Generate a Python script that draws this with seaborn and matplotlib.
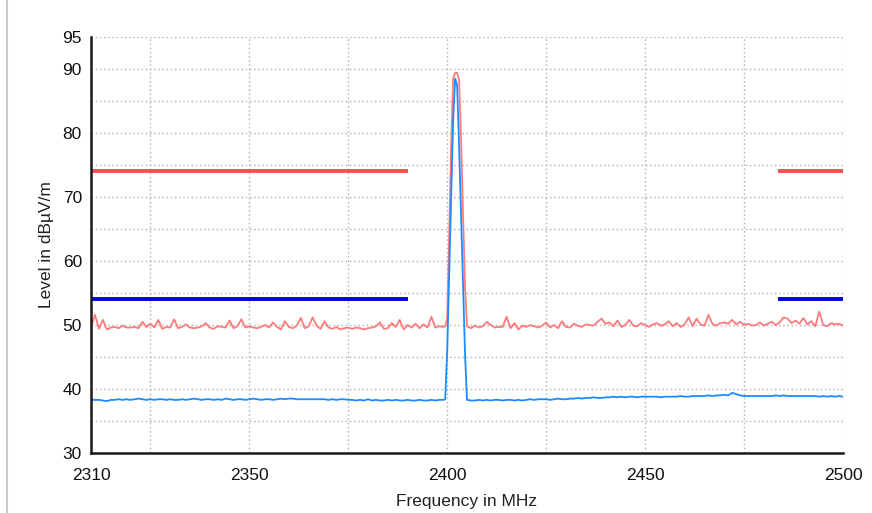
import numpy as np
import pandas as pd
import seaborn as sns
import matplotlib.pyplot as plt
from matplotlib.lines import Line2D

# ---- measured traces -------------------------------------------------------
freq_left = np.arange(2310, 2400)        # 1 MHz sweep points below the carrier
freq_peak = [2399.5, 2400.0, 2400.5, 2401.0, 2401.5, 2402.0, 2402.5,
             2403.0, 2403.5, 2404.0, 2404.5]
freq_right = np.arange(2405, 2501)       # 1 MHz sweep points above the carrier

peak_left = [
    49.7, 51.6, 49.4, 50.8, 49.3, 49.6, 49.7, 49.5, 49.9, 49.6,
    49.6, 49.7, 49.5, 50.5, 49.7, 50.2, 49.6, 50.8, 49.4, 49.7,
    49.6, 50.9, 49.5, 49.7, 50.1, 49.6, 49.5, 49.6, 49.8, 50.3,
    49.6, 49.4, 49.8, 49.7, 49.6, 50.7, 49.5, 49.8, 50.9, 49.6,
    49.8, 49.6, 49.5, 49.7, 50.0, 49.6, 50.4, 49.7, 49.3, 50.6,
    49.7, 49.5, 49.9, 51.1, 49.5, 49.8, 51.2, 49.9, 49.4, 50.6,
    49.6, 49.4, 49.7, 49.3, 49.5, 49.6, 49.4, 49.6, 49.5, 49.3,
    49.5, 49.6, 49.8, 50.4, 49.4, 49.5, 50.3, 49.7, 50.8, 49.3,
    50.0, 49.6, 50.2, 49.5, 50.1, 49.6, 51.3, 49.6, 49.8, 49.7,
]
peak_carrier = [49.8, 51.0, 64.0, 78.0, 88.5, 89.4, 89.4, 88.3, 79.0, 67.5, 56.0]
peak_right = [
    49.8, 49.5, 49.9, 49.6, 49.8, 50.5, 50.0, 49.6, 49.7, 49.7,
    51.3, 49.5, 50.3, 49.3, 49.9, 49.7, 50.0, 49.8, 49.6, 49.9,
    50.4, 49.6, 50.0, 49.5, 50.6, 49.7, 49.6, 50.2, 49.9, 49.7,
    50.1, 50.0, 49.9, 50.5, 51.0, 50.2, 50.4, 49.8, 50.7, 49.7,
    50.0, 50.8, 49.9, 49.8, 50.3, 50.0, 49.7, 50.1, 50.3, 49.9,
    50.1, 50.6, 49.8, 50.3, 49.7, 50.1, 51.2, 49.8, 51.0, 50.1,
    49.9, 51.6, 50.2, 49.9, 50.3, 50.4, 50.2, 50.8, 50.1, 50.5,
    50.0, 50.2, 49.9, 50.0, 50.4, 49.9, 50.2, 50.5, 50.0, 50.4,
    51.2, 51.0, 50.3, 50.7, 50.2, 51.1, 50.1, 50.6, 49.8, 52.1,
    50.0, 49.8, 50.3, 50.1, 50.2, 49.9,
]

avg_left = [
    38.3, 38.3, 38.3, 38.2, 38.1, 38.3, 38.3, 38.4, 38.3, 38.4,
    38.3, 38.4, 38.5, 38.4, 38.3, 38.4, 38.3, 38.4, 38.4, 38.3,
    38.4, 38.3, 38.3, 38.4, 38.3, 38.4, 38.5, 38.4, 38.3, 38.4,
    38.4, 38.3, 38.4, 38.3, 38.5, 38.4, 38.3, 38.4, 38.4, 38.3,
    38.4, 38.5, 38.4, 38.3, 38.4, 38.4, 38.3, 38.4, 38.5, 38.4,
    38.5, 38.5, 38.4, 38.4, 38.4, 38.4, 38.4, 38.4, 38.4, 38.4,
    38.3, 38.4, 38.3, 38.4, 38.4, 38.3, 38.3, 38.2, 38.3, 38.2,
    38.4, 38.2, 38.3, 38.2, 38.2, 38.3, 38.2, 38.3, 38.2, 38.2,
    38.3, 38.2, 38.2, 38.3, 38.2, 38.2, 38.3, 38.2, 38.3, 38.3,
]
avg_carrier = [38.4, 46.0, 58.0, 70.0, 82.0, 88.5, 87.5, 78.0, 67.0, 56.0, 45.5]
avg_right = [
    38.3, 38.2, 38.2, 38.3, 38.2, 38.3, 38.2, 38.3, 38.3, 38.2,
    38.3, 38.3, 38.2, 38.3, 38.2, 38.3, 38.4, 38.3, 38.4, 38.4,
    38.4, 38.3, 38.4, 38.5, 38.4, 38.4, 38.5, 38.5, 38.6, 38.5,
    38.6, 38.6, 38.7, 38.6, 38.6, 38.7, 38.7, 38.8, 38.7, 38.8,
    38.7, 38.8, 38.8, 38.7, 38.8, 38.8, 38.8, 38.8, 38.8, 38.7,
    38.8, 38.8, 38.8, 38.8, 38.9, 38.8, 38.8, 38.9, 38.9, 38.9,
    38.9, 39.0, 38.9, 39.0, 39.0, 39.1, 39.0, 39.4, 39.2, 39.0,
    38.9, 38.9, 38.9, 38.9, 38.9, 38.9, 38.9, 38.9, 39.0, 38.9,
    39.0, 38.9, 38.9, 38.9, 38.9, 38.9, 38.9, 38.9, 38.9, 38.8,
    38.9, 38.8, 38.9, 38.8, 38.9, 38.8,
]

# ---- limits (restricted bands) ---------------------------------------------
limit_bands = [(2310, 2390), (2483.5, 2500)]
limit_peak = 74
limit_avg = 54

# ---- axis ticks ------------------------------------------------------------
x_ticks = [2310, 2325, 2350, 2375, 2400, 2425, 2450, 2475, 2500]
x_tick_labels = ["2310", "", "2350", "", "2400", "", "2450", "", "2500"]
y_ticks = [30, 35, 40, 45, 50, 55, 60, 65, 70, 75, 80, 85, 90, 95]
y_tick_labels = ["30", "", "40", "", "50", "", "60", "", "70", "", "80", "", "90", "95"]

freq = np.concatenate([freq_left, freq_peak, freq_right])
df = pd.DataFrame({
    "freq": np.concatenate([freq, freq]),
    "level": np.concatenate([peak_left, peak_carrier, peak_right,
                             avg_left, avg_carrier, avg_right]),
    "detector": ["Peak"] * len(freq) + ["Average"] * len(freq),
})

sns.set_style("white")
plt.rcParams["font.family"] = ["Liberation Sans", "DejaVu Sans"]

fig = plt.figure(figsize=(8.72, 5.13), dpi=100)
ax = fig.add_axes([91 / 872, 1 - 453 / 513, 752 / 872, 416 / 513])

# limit lines
for lo, hi in limit_bands:
    ax.plot([lo, hi], [limit_peak, limit_peak], color="#ff4d4d", lw=2.8,
            solid_capstyle="butt", zorder=3)
    ax.plot([lo, hi], [limit_avg, limit_avg], color="#0000e6", lw=2.8,
            solid_capstyle="butt", zorder=3)

sns.lineplot(data=df, x="freq", y="level", hue="detector",
             hue_order=["Peak", "Average"],
             palette={"Peak": "#ff7b7b", "Average": "#1a8cff"},
             estimator=None, sort=False, linewidth=1.3, legend=False,
             ax=ax, zorder=4)

ax.set_xlim(2310, 2500)
ax.set_ylim(30, 95)
ax.set_xticks(x_ticks)
ax.set_xticklabels(x_tick_labels)
ax.set_yticks(y_ticks)
ax.set_yticklabels(y_tick_labels)

ax.grid(True, color="#b8b8b8", linestyle=(0, (1.2, 1.8)), linewidth=1.0)
ax.set_axisbelow(True)
for side in ("top", "right"):
    ax.spines[side].set_visible(False)
for side in ("left", "bottom"):
    ax.spines[side].set_color("#1a1a1a")
    ax.spines[side].set_linewidth(1.8)
    ax.spines[side].set_zorder(5)

ax.tick_params(axis="both", direction="inout", length=7, width=1.4,
               color="#1a1a1a", labelsize=12.5, labelcolor="#111111")
ax.tick_params(axis="x", pad=7)
ax.tick_params(axis="y", pad=3)

ax.set_xlabel("Frequency in MHz", fontsize=12.5, color="#222222", labelpad=8)
ax.set_ylabel("Level in dBµV/m", fontsize=12.5, color="#222222", labelpad=6)

# thin frame line along the left edge of the panel
fig.add_artist(Line2D([6.5 / 872, 6.5 / 872], [0, 1], transform=fig.transFigure,
                      color="#c8c8c8", lw=1.5))

fig.savefig("out.png", dpi=100)
